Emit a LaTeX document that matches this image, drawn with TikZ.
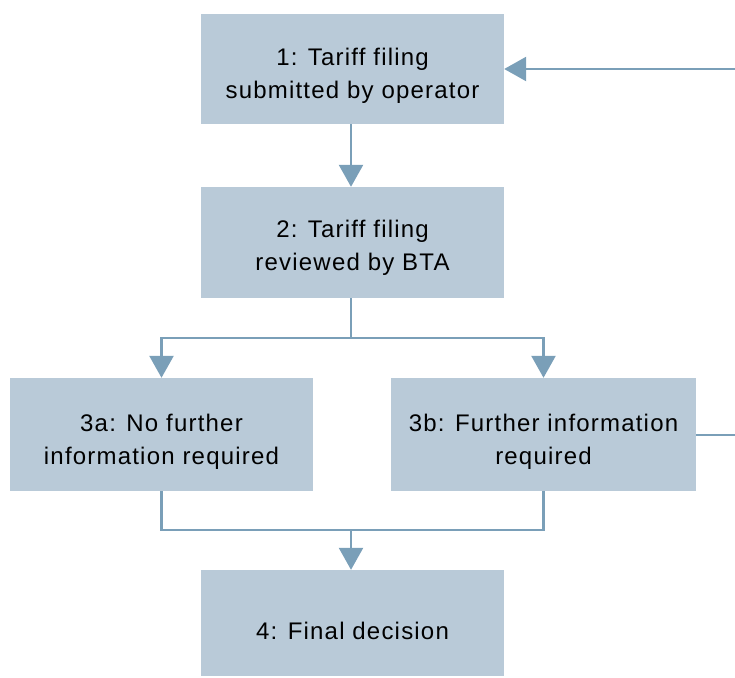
\documentclass[tikz,border=0pt]{standalone}
\usepackage{fontspec}
\setmainfont{Liberation Sans}[LetterSpace=5]
\usetikzlibrary{arrows.meta}
\definecolor{boxfill}{HTML}{B9CAD8}
\definecolor{linecol}{HTML}{7A9FB8}
\begin{document}
\begin{tikzpicture}[x=1pt,y=-1pt,
  procbox/.style={rectangle,fill=boxfill,draw=none,minimum width=303pt,inner sep=0pt},
  boxtext/.style={align=center,inner sep=0pt,font=\fontsize{24}{33}\selectfont},
  conn/.style={draw=linecol,line width=2.5pt},
  arr/.style={conn,-{Triangle[width=24pt,length=22pt]}}]
\useasboundingbox (0,0) rectangle (735,677);
\node[procbox,minimum height=110pt] (b1) at (352.5,69) {};
\node[procbox,minimum height=111pt] (b2) at (352.5,242.5) {};
\node[procbox,minimum height=113pt] (b3a) at (161.5,434.5) {};
\node[procbox,minimum height=113pt,minimum width=305pt] (b3b) at (543.5,434.5) {};
\node[procbox,minimum height=106pt] (b4) at (352.5,623) {};
\node[boxtext] (t1) at ([yshift=-7pt]b1.center) {1: Tariff filing\\submitted by operator};
\node[boxtext] (t2) at ([yshift=-5.5pt]b2.center) {2: Tariff filing\\reviewed by BTA};
\node[boxtext] (t3a) at ([yshift=-7pt]b3a.center) {3a: No further\\information required};
\node[boxtext] (t3b) at ([yshift=-7pt]b3b.center) {3b: Further information\\required};
\node[boxtext] (t4) at ([yshift=-7.5pt]b4.center) {4: Final decision};
\coordinate (fbin) at (735,69);
\coordinate (fbout) at (735,435);
\coordinate (split) at (351,338);
\coordinate (join) at (351,530);
\draw[arr] (b1.south -| split) -- (b2.north -| split);
\draw[conn] (b2.south -| split) -- (split);
\draw[arr] (split) -| (b3a.north);
\draw[arr] (split) -| (b3b.north);
\draw[conn] (b3a.south) |- (join);
\draw[conn] (b3b.south) |- (join);
\draw[arr] (join) -- (b4.north -| join);
\draw[conn] (b3b.east |- fbout) -- (fbout);
\draw[arr] (fbin) -- (b1.east |- fbin);
\end{tikzpicture}
\end{document}
